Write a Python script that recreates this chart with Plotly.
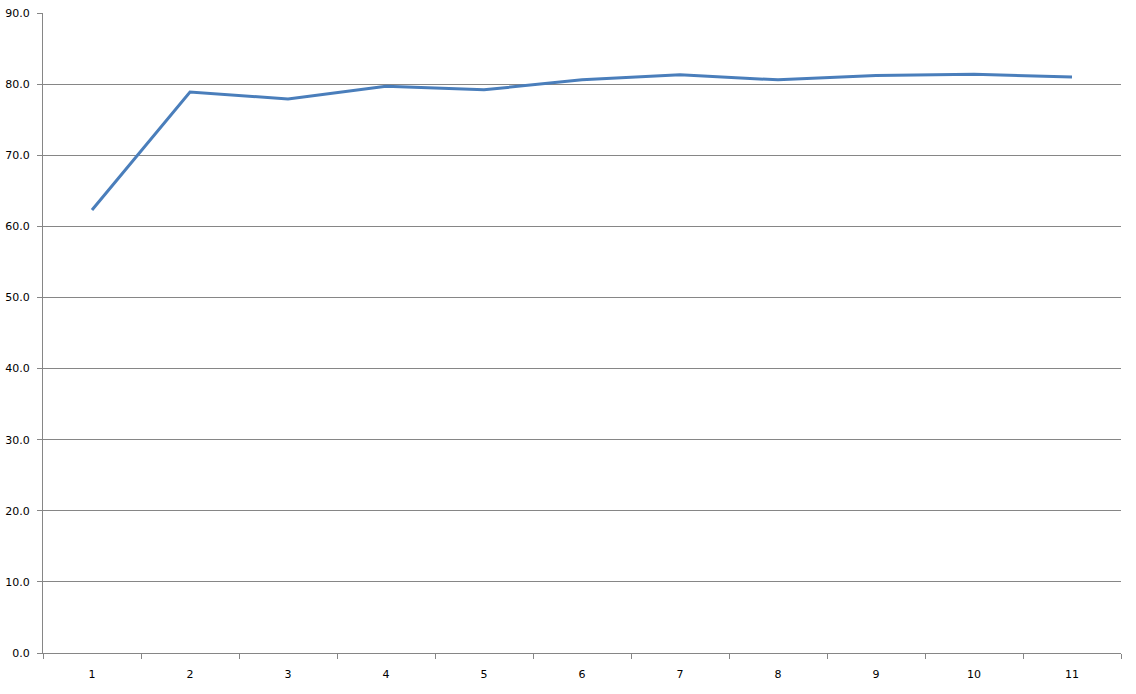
import plotly.graph_objects as go

categories = ["1", "2", "3", "4", "5", "6", "7", "8", "9", "10", "11"]
values = [62.3, 78.9, 77.9, 79.7, 79.2, 80.6, 81.3, 80.6, 81.2, 81.4, 81.0]

fig = go.Figure()
fig.add_trace(go.Scatter(
    x=categories, y=values, mode="lines",
    line=dict(color="#4A7EBB", width=3),
    showlegend=False,
))

axis_color = "#868686"
fig.update_layout(
    width=1136, height=694,
    margin=dict(l=43, r=15, t=13, b=41),
    paper_bgcolor="white", plot_bgcolor="white",
    font=dict(family="DejaVu Sans", size=11, color="black"),
    xaxis=dict(
        type="category", range=[-0.5, len(categories) - 0.5],
        showgrid=False, showline=True, linecolor=axis_color, linewidth=1,
        ticks="outside", tickson="boundaries", ticklen=5, tickcolor=axis_color,
        ticklabelstandoff=11, zeroline=False, automargin=False,
    ),
    yaxis=dict(
        range=[0, 90], dtick=10, tickformat=".1f", showgrid=True, gridcolor=axis_color,
        gridwidth=1, showline=True, linecolor=axis_color, linewidth=1,
        ticks="outside", ticklen=5, tickcolor=axis_color, zeroline=False,
        ticklabelstandoff=5, automargin=False,
    ),
)

fig.write_html(
    "out.html",
    config={"displayModeBar": False},
    post_script="document.body.style.margin='0';document.body.style.overflow='hidden';",
)
